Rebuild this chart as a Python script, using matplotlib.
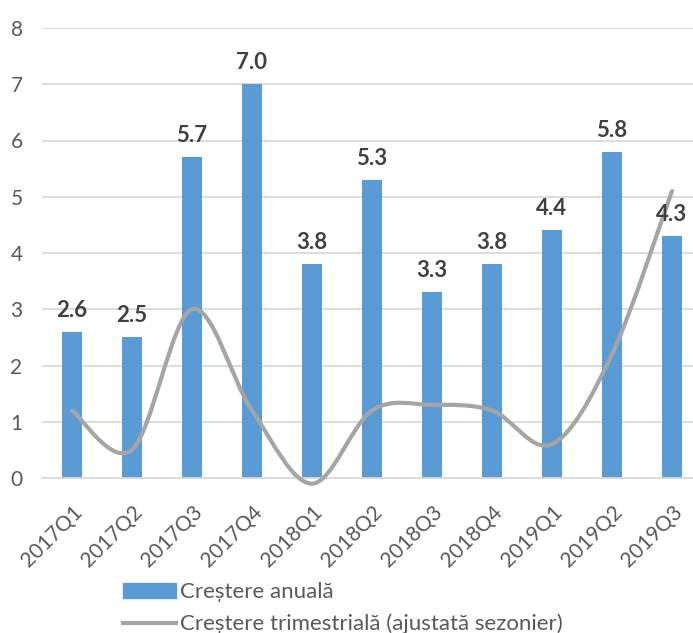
import numpy as np
import matplotlib.pyplot as plt
from matplotlib.path import Path
from matplotlib.patches import PathPatch
from matplotlib.lines import Line2D
from matplotlib.patches import Patch

plt.rcParams['font.family'] = ['Lato', 'DejaVu Sans']

quarters = ['2017Q1', '2017Q2', '2017Q3', '2017Q4', '2018Q1', '2018Q2',
            '2018Q3', '2018Q4', '2019Q1', '2019Q2', '2019Q3']
annual = [2.6, 2.5, 5.7, 7.0, 3.8, 5.3, 3.3, 3.8, 4.4, 5.8, 4.3]
quarterly = [1.2, 0.5, 3.0, 1.2, -0.1, 1.2, 1.3, 1.2, 0.6, 2.2, 5.1]

bar_color = '#5B9BD5'
line_color = '#A5A5A5'
text_color = '#595959'


def smooth_path(xs, ys):
    # excel style smoothed line: bezier segments with catmull-rom control points
    pts = np.column_stack([xs, ys]).astype(float)
    n = len(pts)
    verts = [pts[0]]
    codes = [Path.MOVETO]
    for i in range(n - 1):
        p0 = pts[i - 1] if i > 0 else pts[i]
        p1 = pts[i]
        p2 = pts[i + 1]
        p3 = pts[i + 2] if i + 2 < n else pts[i + 1]
        c1 = p1 + (p2 - p0) / 6
        c2 = p2 - (p3 - p1) / 6
        verts += [c1, c2, p2]
        codes += [Path.CURVE4] * 3
    return Path(verts, codes)


fig = plt.figure(figsize=(6.93, 6.33), dpi=100)
ax = fig.add_axes([42 / 693, 155 / 633, 660 / 693, 450 / 633])

x = np.arange(len(quarters))
ax.bar(x, annual, width=0.33, color=bar_color, zorder=2)

for xi, v in zip(x, annual):
    ax.annotate(f'{v:.1f}', (xi, v), xytext=(0, 8), textcoords='offset points',
                ha='center', va='bottom', fontsize=16, fontweight='bold',
                color='#404040', zorder=5)

ax.add_patch(PathPatch(smooth_path(x, quarterly), facecolor='none',
                       edgecolor=line_color, lw=3, capstyle='round', zorder=3,
                       clip_on=False))

ax.set_xlim(-0.5, len(quarters) - 0.5)
ax.set_ylim(0, 8)
ax.set_yticks(range(0, 9))
ax.grid(axis='y', color='#D9D9D9', lw=1.3, zorder=0)
ax.set_axisbelow(True)
for s in ['top', 'right', 'left']:
    ax.spines[s].set_visible(False)
ax.spines['bottom'].set_color('#D9D9D9')
ax.spines['bottom'].set_linewidth(1.3)
ax.tick_params(length=0, labelsize=15, colors=text_color)
ax.tick_params(axis='y', pad=14)
ax.set_xticks(x)
ax.set_xticklabels(quarters, rotation=45, ha='right', rotation_mode='anchor')
ax.tick_params(axis='x', pad=17)

handles = [Patch(color=bar_color), Line2D([0], [0], color=line_color, lw=3)]
labels = ['Creștere anuală', 'Creștere trimestrială (ajustată sezonier)']
fig.legend(handles, labels, loc='upper left', bbox_to_anchor=(112 / 693, 1 - 571 / 633),
           frameon=False, fontsize=16, labelcolor=text_color, handlelength=2.4,
           handletextpad=0.15, labelspacing=0.53, borderpad=0)

fig.savefig('out.png', dpi=100)
